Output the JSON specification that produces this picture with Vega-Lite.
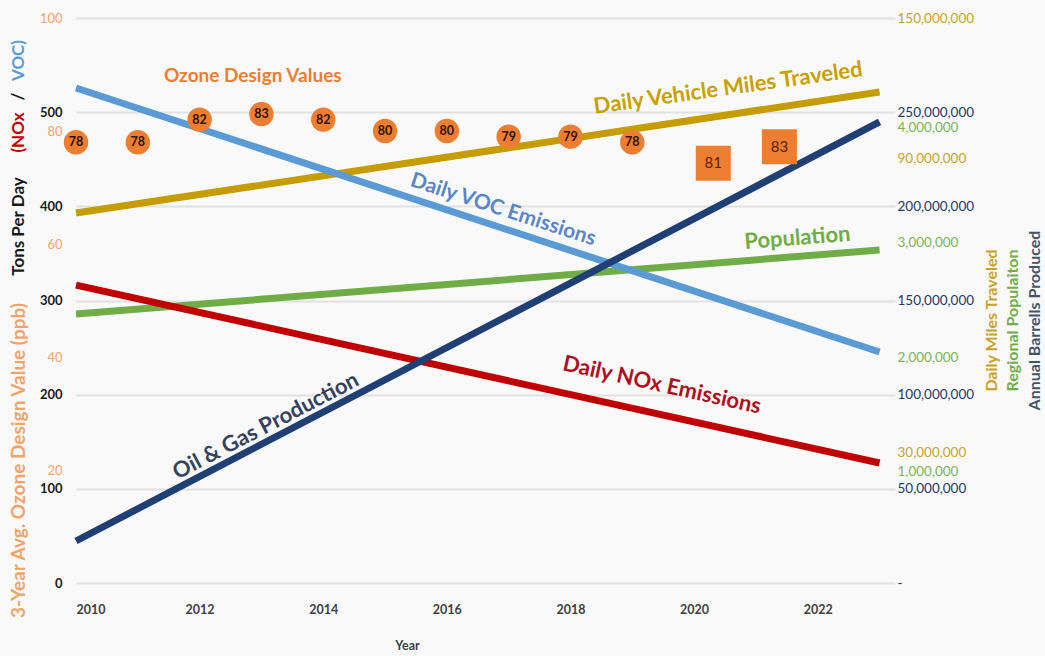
{
  "$schema": "https://vega.github.io/schema/vega-lite/v6.json",
  "width": 819,
  "height": 565,
  "autosize": {"type": "none"},
  "padding": {"left": 76, "top": 18, "right": 150, "bottom": 73},
  "background": "#F9F9F9",
  "config": {
    "view": {"stroke": null},
    "font": "Lato",
    "axis": {"ticks": false, "domain": false, "grid": false, "labelFont": "Lato", "titleFont": "Lato", "titleFontWeight": "bold"},
    "axisY": {"titleFontSize": 17, "titleAngle": -90, "titleAlign": "center", "titleBaseline": "middle"}
  },
  "datasets": {
    "voc": [{"year": 2010, "tons": 525.7}, {"year": 2023, "tons": 245.3}],
    "nox": [{"year": 2010, "tons": 316.4}, {"year": 2023, "tons": 127.4}],
    "vmt": [{"year": 2010, "miles": 78780000}, {"year": 2023, "miles": 103470000}],
    "pop": [{"year": 2010, "people": 2378000}, {"year": 2023, "people": 2936000}],
    "oil": [{"year": 2010, "barrels": 22300000}, {"year": 2023, "barrels": 244800000}],
    "ozone": [
      {"year": 2010, "ppb": 78, "dv": "78"},
      {"year": 2011, "ppb": 78, "dv": "78"},
      {"year": 2012, "ppb": 82, "dv": "82"},
      {"year": 2013, "ppb": 83, "dv": "83"},
      {"year": 2014, "ppb": 82, "dv": "82"},
      {"year": 2015, "ppb": 80, "dv": "80"},
      {"year": 2016, "ppb": 80, "dv": "80"},
      {"year": 2017, "ppb": 79, "dv": "79"},
      {"year": 2018, "ppb": 79, "dv": "79"},
      {"year": 2019, "ppb": 78, "dv": "78"}
    ],
    "ozone_proj": [
      {"year": 2020.31, "ppb": 74.3, "dv": "81"},
      {"year": 2021.38, "ppb": 77.2, "dv": "83"}
    ]
  },
  "encoding": {
    "x": {
      "field": "year", "type": "quantitative",
      "scale": {"domain": [2010, 2023.25], "nice": false, "zero": false},
      "axis": {"values": [2010, 2012, 2014, 2016, 2018, 2020, 2022], "format": "d", "labelFontWeight": "bold", "labelFontSize": 12.5, "labelColor": "#404040", "labelPadding": 20, "title": "Year", "titleFontSize": 12.5, "titleColor": "#404040", "titleX": 331, "titleY": 62, "titleAlign": "center", "titleBaseline": "middle"}
    }
  },
  "layer": [
    {
      "encoding": {"y": {"field": "miles", "type": "quantitative", "scale": {"domain": [3265306, 118571429], "nice": false, "zero": false},
        "axis": {"orient": "right", "values": [30000000, 90000000, 118571429], "format": ",.0f", "labelExpr": "datum.value > 100000000 ? '150,000,000' : datum.label", "labelColor": "#C9A227", "labelFontSize": 13.5, "labelPadding": 2, "title": "Daily Miles Traveled", "titleColor": "#C9A227", "titleFontSize": 16, "titleX": 96, "titleY": 302}}},
      "layer": [
        {"data": {"name": "vmt"}, "mark": {"type": "line", "color": "#C59D00", "strokeWidth": 7, "strokeCap": "butt"}},
        {"data": {"values": [{"year": 2020.55, "miles": 104290000, "label": "Daily Vehicle Miles Traveled"}]},
         "mark": {"type": "text", "color": "#C9A000", "fontSize": 22, "fontWeight": "bold", "angle": -8},
         "encoding": {"text": {"field": "label"}}}
      ]
    },
    {
      "encoding": {"y": {"field": "people", "type": "quantitative", "scale": {"domain": [32000, 4959000], "nice": false, "zero": false},
        "axis": {"orient": "right", "values": [1000000, 2000000, 3000000, 4000000], "format": ",.0f", "labelColor": "#7DB356", "labelFontSize": 13.5, "labelPadding": 2, "title": "Regional Populaiton", "titleColor": "#70AD47", "titleFontSize": 16, "titleX": 117, "titleY": 302}}},
      "layer": [
        {"data": {"name": "pop"}, "mark": {"type": "line", "color": "#70AD47", "strokeWidth": 7, "strokeCap": "butt"}},
        {"data": {"values": [{"year": 2021.67, "people": 3041000, "label": "Population"}]},
         "mark": {"type": "text", "color": "#70AD47", "fontSize": 22, "fontWeight": "bold", "angle": -4.5},
         "encoding": {"text": {"field": "label"}}}
      ]
    },
    {
      "encoding": {"y": {"field": "tons", "type": "quantitative", "scale": {"domain": [0, 600], "nice": false, "zero": false},
        "axis": {"orient": "left", "labels": false, "title": "VOC)", "titleColor": "#5B9BD5", "titleX": -58, "titleY": 42}}},
      "layer": [
        {"data": {"name": "voc"}, "mark": {"type": "line", "color": "#5B9BD5", "strokeWidth": 7, "strokeCap": "butt"}},
        {"data": {"values": [{"year": 2016.91, "tons": 396.1, "label": "Daily VOC Emissions"}]},
         "mark": {"type": "text", "color": "#5A86C8", "fontSize": 21, "fontWeight": "bold", "angle": 18},
         "encoding": {"text": {"field": "label"}}}
      ]
    },
    {
      "encoding": {"y": {"field": "tons", "type": "quantitative", "scale": {"domain": [0, 600], "nice": false, "zero": false},
        "axis": {"orient": "left", "values": [0, 100, 200, 300, 400, 500, 600], "labelExpr": "datum.value == 600 ? '' : datum.label", "labelFontWeight": "bold", "labelFontSize": 13, "labelColor": "#1A1A1A", "labelPadding": 14, "grid": true, "gridColor": "#E2E2E2", "gridWidth": 2, "title": "(NOx", "titleColor": "#C00000", "titleX": -58, "titleY": 114}}},
      "layer": [
        {"data": {"name": "nox"}, "mark": {"type": "line", "color": "#C00000", "strokeWidth": 7, "strokeCap": "butt"}},
        {"data": {"values": [{"year": 2019.48, "tons": 210.3, "label": "Daily NOx Emissions"}]},
         "mark": {"type": "text", "color": "#B0101E", "fontSize": 22, "fontWeight": "bold", "angle": 12.5},
         "encoding": {"text": {"field": "label"}}}
      ]
    },
    {
      "encoding": {"y": {"field": "barrels", "type": "quantitative", "scale": {"domain": [0, 300000000], "nice": false, "zero": false},
        "axis": {"orient": "right", "values": [0, 50000000, 100000000, 150000000, 200000000, 250000000], "format": ",.0f", "labelExpr": "datum.value == 0 ? '-' : datum.label", "labelColor": "#1F3864", "labelFontSize": 13.5, "labelPadding": 2, "title": "Annual Barrells Produced", "titleColor": "#44546A", "titleFontSize": 16, "titleX": 139, "titleY": 302}}},
      "layer": [
        {"data": {"name": "oil"}, "mark": {"type": "line", "color": "#203F75", "strokeWidth": 7, "strokeCap": "butt"}},
        {"data": {"values": [{"year": 2013.07, "barrels": 83400000, "label": "Oil & Gas Production"}]},
         "mark": {"type": "text", "color": "#34425E", "fontSize": 22, "fontWeight": "bold", "angle": -27.5},
         "encoding": {"text": {"field": "label"}}}
      ]
    },
    {
      "data": {"name": "ozone"},
      "encoding": {"y": {"field": "ppb", "type": "quantitative", "scale": {"domain": [0, 100], "nice": false, "zero": false},
        "axis": {"orient": "left", "values": [20, 40, 60, 80, 100], "labelColor": "#F2A468", "labelFontSize": 13, "labelPadding": 14, "title": "3-Year Avg. Ozone Design Value (ppb)", "titleColor": "#F2A468", "titleFontSize": 19, "titleX": -58, "titleY": 442}}},
      "layer": [
        {"mark": {"type": "point", "shape": "circle", "filled": true, "color": "#ED7D31", "opacity": 1, "size": 600}},
        {"mark": {"type": "text", "color": "#2B1200", "fontSize": 12.5, "fontWeight": "bold"}, "encoding": {"text": {"field": "dv"}}}
      ]
    },
    {
      "data": {"name": "ozone_proj"},
      "encoding": {"y": {"field": "ppb", "type": "quantitative", "scale": {"domain": [0, 100], "nice": false, "zero": false},
        "axis": {"orient": "left", "labels": false, "title": "Tons Per Day", "titleColor": "#1A1A1A", "titleX": -58, "titleY": 208}}},
      "layer": [
        {"mark": {"type": "point", "shape": "square", "filled": true, "color": "#ED7D31", "opacity": 1, "size": 1225}},
        {"mark": {"type": "text", "color": "#5A2200", "fontSize": 15}, "encoding": {"text": {"field": "dv"}}}
      ]
    },
    {
      "data": {"values": [{"year": 2012.86, "ppb": 89.7, "label": "Ozone Design Values"}]},
      "mark": {"type": "text", "color": "#ED7D31", "fontSize": 19, "fontWeight": "bold"},
      "encoding": {
        "y": {"field": "ppb", "type": "quantitative", "scale": {"domain": [0, 100], "nice": false, "zero": false},
          "axis": {"orient": "left", "labels": false, "title": "/", "titleColor": "#1A1A1A", "titleX": -58, "titleY": 78}},
        "text": {"field": "label"}
      }
    }
  ],
  "resolve": {"scale": {"y": "independent"}, "axis": {"y": "independent"}}
}
